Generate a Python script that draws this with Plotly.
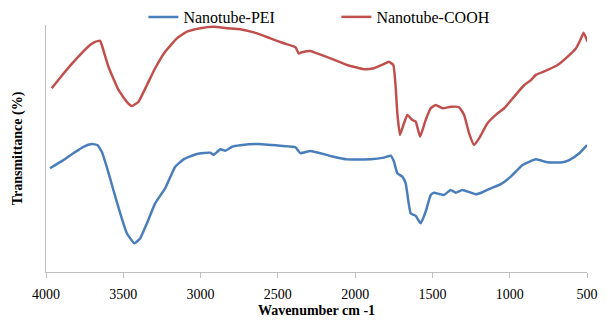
import plotly.graph_objects as go

# Wavenumber (cm-1) and transmittance (arbitrary)
wn_cooh = [3963, 3877, 3801, 3715, 3682, 3650, 3639, 3596, 3531, 3477, 3445, 3402, 3347, 3294,
           3229, 3153, 3088, 3002, 2916, 2829, 2743, 2634, 2548, 2462, 2386, 2365, 2343, 2289,
           2246, 2159, 2051, 1944, 1879, 1814, 1782, 1753, 1738, 1727, 1710, 1684, 1662, 1630,
           1608, 1580, 1544, 1511, 1479, 1435, 1382, 1328, 1295, 1263, 1231, 1198, 1144, 1079,
           1036, 971, 906, 863, 831, 755, 690, 625, 571, 543, 522, 496]
t_cooh = [74.4, 81.1, 86.5, 91.9, 93.2, 93.6, 91.9, 83.1, 73.7, 68.9, 67.2, 68.9, 75.7, 82.5,
          89.2, 94.6, 97.3, 98.7, 99.3, 98.7, 98.3, 96.6, 94.6, 92.6, 91.0, 88.5, 89.0, 89.5,
          88.5, 86.5, 83.8, 82.1, 82.5, 84.2, 85.1, 83.8, 75.0, 64.2, 55.5, 60.2, 63.6, 61.5,
          60.9, 54.8, 61.5, 66.3, 67.6, 66.3, 66.9, 66.7, 63.6, 56.2, 51.4, 54.1, 60.2, 64.2,
          66.3, 71.0, 75.7, 77.7, 79.8, 81.8, 83.8, 87.2, 90.6, 93.9, 96.9, 93.2]

wn_pei = [3974, 3888, 3823, 3758, 3704, 3668, 3639, 3607, 3564, 3520, 3477, 3428, 3391, 3347,
          3294, 3229, 3164, 3110, 3023, 2937, 2916, 2872, 2840, 2796, 2743, 2634, 2483, 2386,
          2354, 2289, 2159, 2051, 1900, 1814, 1770, 1749, 1727, 1695, 1673, 1641, 1608, 1576,
          1544, 1511, 1490, 1457, 1425, 1382, 1349, 1306, 1220, 1176, 1122, 1057, 993, 917,
          831, 755, 658, 615, 550, 500]
t_pei = [42.0, 45.3, 48.1, 50.7, 51.8, 51.4, 48.7, 42.6, 33.2, 23.8, 15.7, 11.6, 13.6, 19.7,
         27.8, 33.9, 42.6, 45.6, 47.8, 48.3, 47.4, 49.7, 49.1, 50.7, 51.3, 51.8, 51.1, 50.5,
         48.1, 49.0, 47.0, 45.6, 45.6, 46.3, 47.1, 44.7, 40.0, 38.6, 35.9, 23.8, 22.7, 19.7,
         24.4, 31.2, 32.1, 31.6, 31.2, 33.2, 32.1, 33.2, 31.5, 32.3, 33.9, 35.6, 38.6, 43.3,
         45.6, 44.4, 44.4, 45.3, 48.1, 51.4]

x_ticks = [4000, 3500, 3000, 2500, 2000, 1500, 1000, 500]

SERIF = "Liberation Serif, Times New Roman, serif"

fig = go.Figure()
fig.add_trace(go.Scatter(x=wn_pei, y=t_pei, mode="lines", name="Nanotube-PEI",
                         line=dict(color="#4A7EBB", width=2.5, shape="spline", smoothing=0.4)))
fig.add_trace(go.Scatter(x=wn_cooh, y=t_cooh, mode="lines", name="Nanotube-COOH",
                         line=dict(color="#C0504D", width=2.5, shape="spline", smoothing=0.4)))

fig.update_layout(
    width=607, height=320,
    margin=dict(l=46, r=20, t=4, b=48, autoexpand=False),
    paper_bgcolor="white", plot_bgcolor="white",
    font=dict(family=SERIF, size=14, color="#000000"),
    showlegend=True,
    legend=dict(orientation="h", x=0.18, y=1.015, xanchor="left", yanchor="top",
                font=dict(family=SERIF, size=16, color="#000000"),
                itemwidth=30, entrywidth=148, entrywidthmode="pixels",
                bgcolor="rgba(0,0,0,0)", tracegroupgap=0),
    xaxis=dict(range=[4000, 500], tickvals=x_ticks, ticktext=[str(v) for v in x_ticks],
               automargin=False,
               showgrid=False, zeroline=False, showline=True, linecolor="#BFBFBF", linewidth=1,
               ticks="outside", ticklen=5, tickcolor="#BFBFBF", ticklabelstandoff=4,
               tickfont=dict(family=SERIF, size=14, color="#000000"),
               title=dict(text="<b>Wavenumber cm -1</b>", standoff=4,
                          font=dict(family=SERIF, size=14, color="#000000"))),
    yaxis=dict(range=[0, 100], domain=[0, 247 / 268], automargin=False,
               showticklabels=False, showgrid=False, zeroline=False,
               showline=True, linecolor="#BFBFBF", linewidth=1, ticks="",
               title=dict(text="<b>Transmittance (%)</b>", standoff=19,
                          font=dict(family=SERIF, size=14, color="#000000"))),
)

fig.write_html("out.html", config={"displayModeBar": False},
               post_script="document.body.style.margin='0px';document.body.style.padding='0px';")
